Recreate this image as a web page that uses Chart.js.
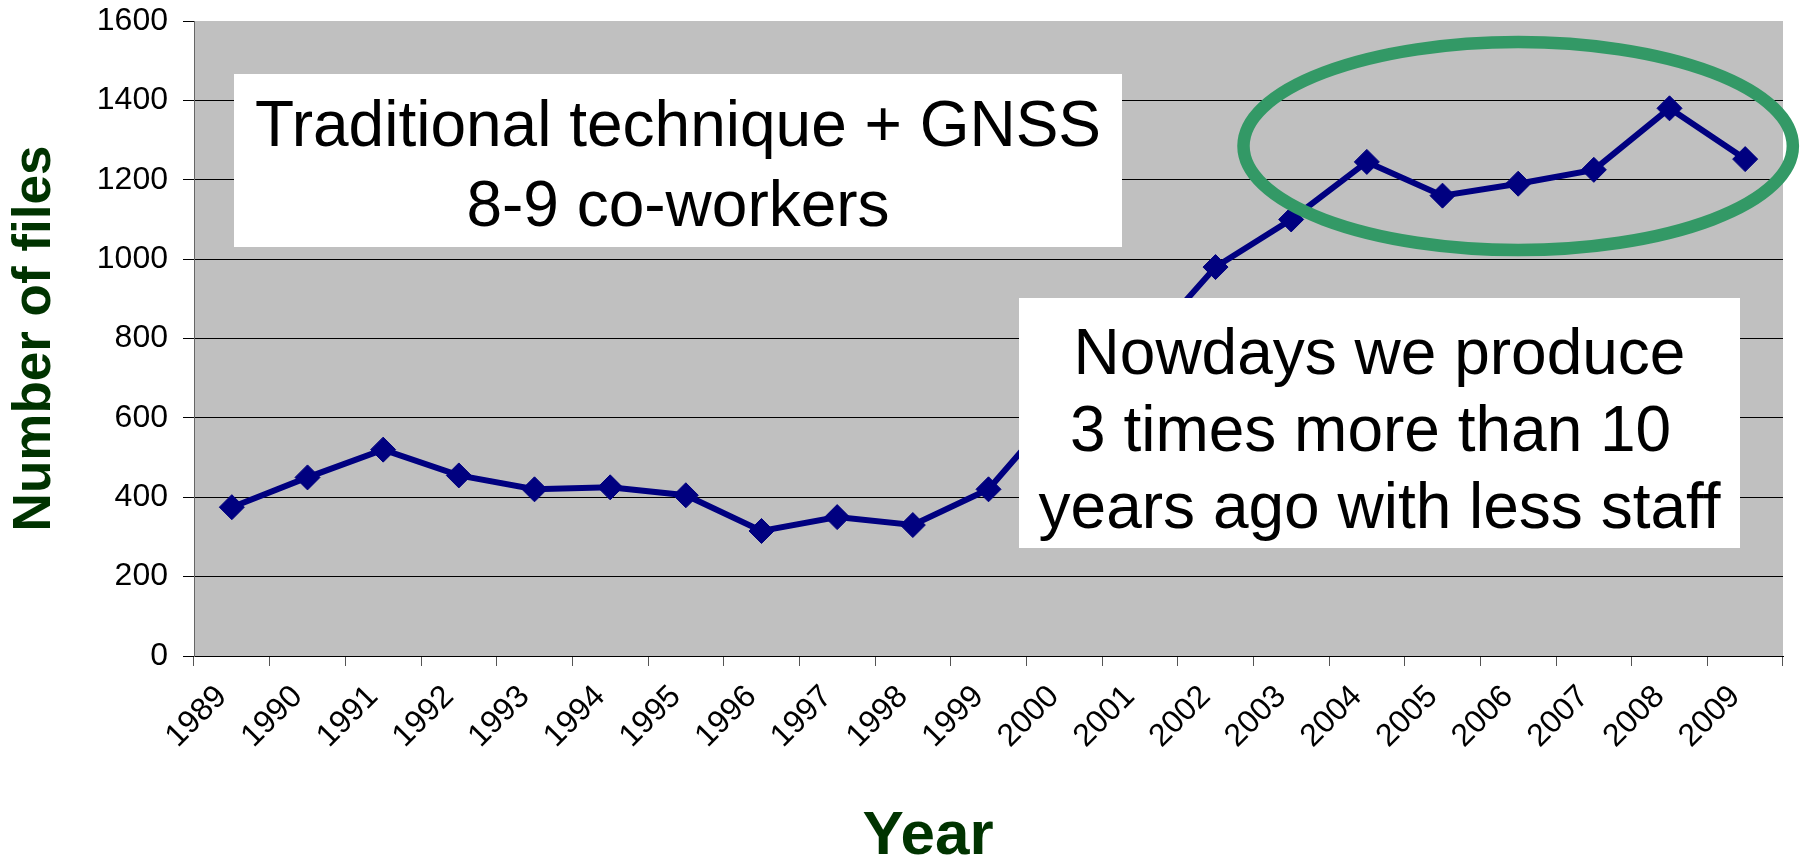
<!DOCTYPE html>
<html>
<head>
<meta charset="utf-8">
<script src="https://cdn.jsdelivr.net/npm/chart.js@4/dist/chart.umd.min.js"></script>
<style>
 body{margin:0;background:#fff;}
 #wrap{position:relative;width:1801px;height:861px;font-family:"Liberation Sans",Arial,sans-serif;}
 .note{position:absolute;background:#fff;color:#000;font-size:64px;line-height:80px;
  display:flex;flex-direction:column;justify-content:center;align-items:center;white-space:pre;box-sizing:border-box;}
 #yearTitle{position:absolute;left:928px;top:802px;transform:translateX(-50%);
  font-size:62px;line-height:1;font-weight:bold;color:#003300;}
</style>
</head>
<body>
<div id="wrap">
 <canvas id="chart" width="1801" height="861"></canvas>
 <div class="note" style="left:234px;top:74px;width:888px;height:173px;padding-top:6px">
  <div>Traditional technique + GNSS</div><div>8-9 co-workers</div>
 </div>
 <div class="note" style="left:1019px;top:298px;width:721px;height:250px;line-height:77px;padding-top:12px">
  <div>Nowdays we produce</div><div>3 times more than 10 </div><div>years ago with less staff</div>
 </div>
 <div id="yearTitle">Year</div>
</div>
<script>
/* ===== data ===== */
const years = ["1989","1990","1991","1992","1993","1994","1995","1996","1997","1998","1999",
 "2000","2001","2002","2003","2004","2005","2006","2007","2008","2009"];
const files = [375,450,520,455,420,425,405,315,350,330,420,640,765,980,1100,1245,1160,1190,1225,1380,1252];
const yMin = 0, yMax = 1600, yStep = 200;

/* highlight ring, in data units (category index / value) */
const ring = { cat:17, val:1285, halfCats:3.63, halfVal:262 };

/* ===== plugins ===== */
const plotBg = {
 id:"plotBg",
 beforeDraw(c){
  const a=c.chartArea, ctx=c.ctx;
  ctx.save();
  ctx.fillStyle="#C0C0C0";
  ctx.fillRect(a.left,a.top,a.right-a.left,a.bottom-a.top);
  ctx.restore();
 }
};

const ringPlugin = {
 id:"ring",
 afterDatasetsDraw(c){
  const x=c.scales.x, y=c.scales.y, ctx=c.ctx;
  const cw=x.getPixelForValue(1)-x.getPixelForValue(0);
  const cx=x.getPixelForValue(ring.cat), cy=y.getPixelForValue(ring.val);
  const rx=ring.halfCats*cw, ry=Math.abs(y.getPixelForValue(ring.val+ring.halfVal)-cy);
  ctx.save();
  ctx.strokeStyle="#339966";
  ctx.lineWidth=12.5;
  ctx.beginPath();
  ctx.ellipse(cx,cy,rx,ry,0,0,Math.PI*2);
  ctx.stroke();
  ctx.restore();
 }
};

/* ===== chart ===== */
const font = "'Liberation Sans', Arial, sans-serif";

new Chart(document.getElementById("chart"),{
 type:"line",
 data:{
  labels:years,
  datasets:[{
   data:files,
   borderColor:"#000080",
   backgroundColor:"#000080",
   borderWidth:6,
   tension:0,
   pointStyle:"rectRot",
   pointRadius:12.5,
   pointBorderWidth:1,
   pointBackgroundColor:"#000080",
   pointBorderColor:"#000080"
  }]
 },
 options:{
  responsive:false,
  animation:false,
  devicePixelRatio:1,
  layout:{padding:{left:0,top:21,right:18,bottom:0}},
  plugins:{legend:{display:false},tooltip:{enabled:false}},
  scales:{
   x:{
    offset:true,
    grid:{offset:true,drawOnChartArea:false,tickLength:10,color:"#555"},
    border:{color:"#000",width:1},
    ticks:{
     autoSkip:false,maxRotation:45,minRotation:45,
     labelOffset:-10,padding:12,color:"#000",
     font:{family:font,size:32}
    },
    afterFit(s){ s.height=205; s.paddingLeft=0; s.paddingRight=0; }
   },
   y:{
    min:yMin,max:yMax,
    grid:{
     color:ctx=>ctx.tick && ctx.tick.value===yMax ? "rgba(0,0,0,0)" : "#000",
     tickColor:"#000",tickLength:11,lineWidth:1
    },
    border:{color:"#666",width:1},
    ticks:{stepSize:yStep,padding:15,color:"#000",font:{family:font,size:32},
     callback:v=>String(v)},
    title:{
     display:true,text:"Number of files",color:"#003300",
     font:{family:font,size:53,weight:"bold"},padding:{top:4,bottom:0}
    },
    afterFit(s){ s.width=194; s.paddingTop=0; s.paddingBottom=0; }
   }
  }
 },
 plugins:[plotBg,ringPlugin]
});
</script>
</body>
</html>
